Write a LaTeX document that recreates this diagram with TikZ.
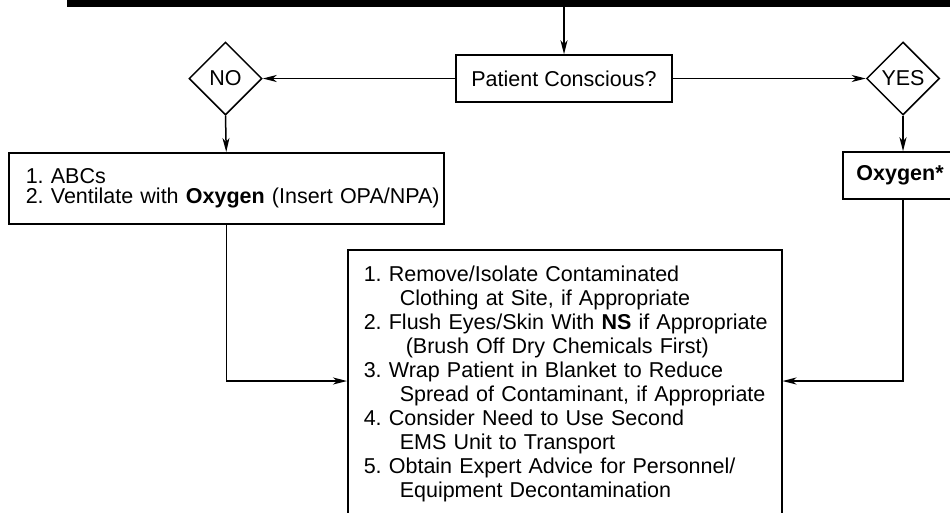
\documentclass[tikz,border=0pt]{standalone}
\usepackage{fontspec}
\setmainfont{Liberation Sans}
\frenchspacing
\usetikzlibrary{shapes.geometric,arrows.meta}
\begin{document}
\begin{tikzpicture}[x=1pt,y=-1pt,
  every node/.style={font=\fontsize{21.5}{24}\selectfont},
  box/.style={draw, line width=1.5pt, rectangle, inner sep=0pt},
  dec/.style={draw, line width=1.5pt, diamond, aspect=1, inner sep=0pt, minimum size=73pt},
  arr/.style={line width=1.5pt, -{Stealth[length=14pt,width=7pt,inset=4pt]}}]
\useasboundingbox (0,0) rectangle (950,512);
\clip (0,0) rectangle (950,512);
\node[fill=black, inner sep=0pt, minimum width=900pt, minimum height=7pt, anchor=north west] (bar) at (67,0) {};
\node[box, minimum width=216pt, minimum height=47pt] (pc) at (564,78.5) {Patient Conscious?};
\node[dec] (no) at (225.5,78.5) {NO};
\node[dec] (yes) at (903,78.5) {YES};
\node[box, minimum height=47pt, minimum width=120pt] (oxy) at (903,175.5) {\hspace{-6pt}\textbf{Oxygen*}};
\node[box, anchor=north west, inner xsep=17pt, text width=401pt, minimum height=71pt, align=left, font=\fontsize{21.5}{20}\selectfont] (lbox) at (8,152)
  {\mbox{1. ABCs}\\
   \mbox{2. Ventilate with \textbf{Oxygen} (Insert OPA/NPA)}};
\node[box, anchor=north west, inner xsep=16pt, inner ysep=16.5pt, text width=402pt, align=left] (cbox) at (347,249)
  {\mbox{1. Remove/Isolate Contaminated}\\
   \mbox{\hspace{36pt}Clothing at Site, if Appropriate}\\
   \mbox{2. Flush Eyes/Skin With \textbf{NS} if Appropriate}\\
   \mbox{\hspace{42pt}(Brush Off Dry Chemicals First)}\\
   \mbox{3. Wrap Patient in Blanket to Reduce}\\
   \mbox{\hspace{36pt}Spread of Contaminant, if Appropriate}\\
   \mbox{4. Consider Need to Use Second}\\
   \mbox{\hspace{36pt}EMS Unit to Transport}\\
   \mbox{5. Obtain Expert Advice for Personnel/}\\
   \mbox{\hspace{36pt}Equipment Decontamination}};
\draw[arr] (bar.south -| pc.north) -- (pc.north);
\draw[arr] (pc.west) -- (no.east);
\draw[arr] (pc.east) -- (yes.west);
\draw[arr] (no.south) -- (lbox.north);
\draw[arr] (yes.south) -- (oxy.north);
\draw[arr] (lbox.south) |- ([yshift=-132pt]cbox.north west);
\draw[arr] (oxy.south) |- ([yshift=-132pt]cbox.north east);
\end{tikzpicture}
\end{document}
